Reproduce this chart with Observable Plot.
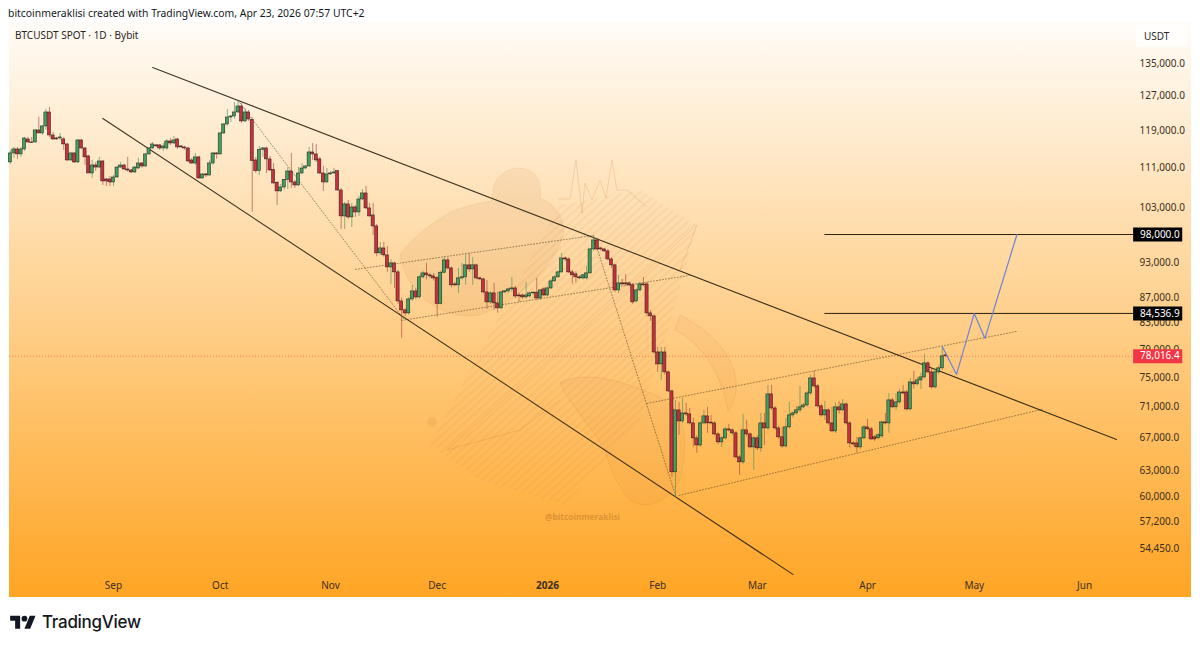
<!DOCTYPE html>
<html><head><meta charset="utf-8">
<script src="https://cdn.jsdelivr.net/npm/d3@7"></script>
<script src="https://cdn.jsdelivr.net/npm/@observablehq/plot@0.6"></script>
<style>
html,body{margin:0;padding:0;background:#fff;width:1200px;height:647px;overflow:hidden;font-family:"Noto Sans",sans-serif;color:#131722}
#panel{position:absolute;left:9px;top:22px;width:1182px;height:575px;background:linear-gradient(#fffcf8 0%,#ffa524 100%)}
#wm{position:absolute;left:0;top:0}
#chart{position:absolute;left:0;top:0}
#chart svg{background:transparent!important}
.t{position:absolute;white-space:nowrap}
#head{left:8px;top:5px;font-size:10.4px;line-height:16px}
#sym{left:15px;top:27px;font-size:10px;line-height:16px;color:#2a2420}
#unit{left:1136px;top:25px;width:44px;height:22px;padding-left:8px;line-height:22px;font-size:10px;background:rgba(255,255,255,.75);border-radius:3px;color:#2a2a2a}
#brand{left:42px;top:610px;font-family:Inter,sans-serif;font-weight:500;font-size:17px;line-height:24px;letter-spacing:-.3px;color:#131722}
#logo{position:absolute;left:10px;top:613px}
</style></head><body>
<div id="panel"></div>
<svg id="wm" width="1200" height="647" viewBox="0 0 1200 647">
<defs><pattern id="hatch" width="6" height="6" patternUnits="userSpaceOnUse" patternTransform="rotate(-42)"><rect width="6" height="2.4" fill="#b8682c" fill-opacity=".08"/></pattern></defs>
<polygon points="430,445 470,370 560,205 640,190 697,225 668,330 640,420 565,505 480,480" fill="url(#hatch)"/>
<g fill="#c06a2c" fill-opacity=".09" stroke="#b8682c" stroke-opacity=".1">
<path d="M400,255 C410,240 425,228 450,212 C470,204 485,203 493,200 C490,185 500,170 517,168 C535,168 542,180 540,198 C552,203 562,212 564,230 C560,262 520,300 480,315 C440,322 405,290 400,255Z"/>
</g>
<g fill="#c06a2c" fill-opacity=".05" stroke="#b8682c" stroke-opacity=".14">
<path d="M560,383 C590,368 630,385 655,395 C680,405 690,430 682,470 C680,490 660,505 645,505 C625,505 612,475 605,450 C590,425 570,405 560,383Z"/>
<path d="M680,315 C720,335 752,375 728,412 C724,380 705,345 675,330Z"/>
</g>
<g fill="none" stroke="#b8682c" stroke-opacity=".18">
<polyline points="558,199 570,199 576,160 582,213 585,183 592,200 600,180 606,198 612,160 617,190 627,190 647,207"/>
<polyline points="447,450 560,350 697,225 680,270"/>
<polyline points="447,450 520,430 560,400"/>
</g>
<circle cx="432" cy="422" r="5" fill="#b8682c" fill-opacity=".12"/>
<text x="545" y="519.5" font-family="Noto Sans" font-weight="700" font-size="8.4" fill="#a8641e" fill-opacity=".42">@bitcoinmeraklisi</text>
</svg>
<div id="chart"></div>
<div class="t" id="head">bitcoinmeraklisi created with TradingView.com, Apr 23, 2026 07:57 UTC+2</div>
<div class="t" id="sym">BTCUSDT SPOT · 1D · Bybit</div>
<div class="t" id="unit">USDT</div>
<svg id="logo" width="26" height="20" viewBox="0 0 36 28"><path fill="#131722" d="M14 22H7V11H0V4h14v18zM28 22h-8l7.5-18h8L28 22z"/><circle fill="#131722" cx="20" cy="8" r="4"/></svg>
<div class="t" id="brand">TradingView</div>
<script>
const firstDay = "2025-08-03";
const openP = [
112160,114070,114930,113860,114930,117100,116440,116440,119090,118420,
119980,123170,117980,117320,117320,117100,116010,112580,114070,112160,
116880,115140,113440,109870,111530,111100,112370,108650,108650,108040,
109050,111100,111530,110700,110490,110080,110900,111950,111320,113860,
115140,115800,115800,115140,115140,116660,116220,117100,115580,115360,
115140,112580,111950,113230,108850,109670,109460,111950,114070,113860,
118420,120430,122010,122240,123170,124560,121110,123170,121490,112580,
110350,114860,115140,112800,110630,107980,106240,107030,108580,110280,
108040,107430,109870,110900,111320,114280,113860,112800,109870,108040,
109670,109870,110350,106430,101380,103680,101190,103100,102140,104650,
105840,102910,101570,99490,94600,95480,94240,92140,92840,91290,
86460,85020,84540,86780,88100,87110,90440,91120,90780,90610,
90320,86040,91240,93360,91970,89260,89100,90270,90440,92500,
91800,92500,90270,90100,87930,86300,87770,86140,85340,87930,
88100,88430,88590,87430,87430,87110,87270,87770,87900,86950,
88430,87430,88590,89760,90440,91290,93710,93530,91290,90950,
90440,90270,90270,91120,95300,96920,95480,95300,94950,93530,
92500,88260,89430,89430,89430,89100,86460,88260,89260,89260,
84540,84070,78580,76840,78580,75700,73050,62780,70500,69060,
70100,69970,68800,66900,66020,68800,69710,68900,68800,67400,
66400,66900,68030,67910,67530,64560,63960,67910,67400,65780,
66900,65660,68800,68160,72640,70760,68160,67030,65900,68290,
69840,70100,70500,70900,71160,72770,74850,73740,71030,69840,
70500,68800,67780,70900,70500,71290,68800,66270,66270,65780,
66900,68290,68040,67030,66900,67150,68930,68800,71830,70900,
71560,72910,72910,70630,74290,74020,74570,74990,76990,75700,
73600,75700,76270,78150];
const highP = [
114710,115360,115360,115360,117540,117540,117540,119310,122080,120200,
123860,124330,118640,117540,118420,117540,116220,114280,114280,117100,
117100,115360,113650,112580,112160,113230,112580,108850,109260,109460,
111320,112160,111740,113230,110700,111320,113020,112160,114070,115360,
116440,116010,116010,116220,117100,117320,117760,117320,115800,115580,
115360,113020,114070,113440,109870,109870,112580,114280,114280,118640,
120650,123860,122470,125500,125970,125260,124090,123630,122000,113230,
115580,115360,115360,113440,111950,108240,107640,108650,111100,114070,
108440,111100,111950,111530,115360,116220,116010,113230,111320,110900,
110280,110900,110490,106830,104070,104460,103880,103490,105250,106630,
107230,103880,103880,99870,96560,96560,95840,93500,93010,91630,
87000,85300,87100,89100,88600,90700,91500,92840,91120,91120,
90600,91500,93950,93800,92200,89600,91970,92840,94420,94600,
93880,92700,90500,90300,89930,88000,89430,87930,88000,88300,
88600,90440,88900,87800,87700,89600,87930,88000,90270,88400,
88700,88800,90100,90700,91500,94600,94000,93800,91600,91400,
90700,91000,92320,95500,97650,97200,95700,95500,95300,93800,
92700,90800,90100,90950,89700,89400,88500,89600,90440,89600,
85000,84300,79320,79320,79320,75900,73200,71830,71560,72100,
71430,70760,69450,67200,69000,70500,70900,69840,69000,67600,
67100,68300,68680,68100,67800,64800,69970,69190,67600,67100,
67200,70100,70100,73880,73880,71000,68400,68290,69450,71560,
70300,71000,73740,71400,73000,75300,75840,74000,71300,71700,
70700,70900,71500,71700,71960,71500,69000,66500,67030,67000,
68550,69320,68300,67300,67500,69100,70100,72770,72100,72770,
73330,73880,73200,74850,75840,75000,75600,78290,77200,76270,
76270,76700,79320,78400];
const lowP = [
111740,113020,112810,113230,114500,116220,116220,116220,118420,118000,
119090,117540,116880,116880,116880,114710,112360,112370,111950,111950,
114920,111530,109870,108850,110280,110900,107430,107230,107230,107230,
108850,110900,110490,110080,109870,109870,110700,110900,111100,113650,
114930,115360,114710,114500,114700,115800,115990,114930,115140,114710,
112160,111740,111530,108650,108650,109050,109260,111530,112810,113650,
118200,119980,120880,121560,122930,120650,120880,121110,102190,109870,
109460,113230,109870,110280,107640,103480,106040,106500,106630,106830,
106830,107230,109670,110700,111100,112580,112160,109670,106240,107840,
109460,109670,106240,98930,98930,100790,99300,101200,101380,104460,
102700,101190,97840,94000,94250,93900,91290,89260,88590,86000,
80670,84100,84300,86460,86700,86800,90200,90000,90200,89800,
83950,85900,91000,91700,88700,88900,87770,90000,89100,91300,
89100,90000,89900,87700,85180,86000,85020,84550,85100,87800,
87800,88000,86900,86300,86800,86800,87000,87500,86600,86600,
87200,87200,88400,89600,90300,91100,93200,91100,89260,89500,
90100,90000,90000,90900,95000,95000,95000,94800,93300,92000,
87900,87800,89000,89000,88900,86000,86200,88000,88900,84000,
83280,78300,75700,74570,75300,72900,62190,59900,67280,68800,
69700,68600,65780,65050,65800,68600,67530,68600,67200,66100,
65780,66700,67700,67300,64400,62420,63700,67100,65600,63010,
65400,65170,66020,67900,70500,67900,66800,65660,65700,68100,
69500,69900,70200,70700,70900,72500,73500,70800,69600,69190,
68600,67600,67500,70000,70300,68600,65660,65900,65050,65500,
66700,67900,66600,66500,66700,66900,68600,67530,70700,70500,
71300,72600,70400,70400,73330,73800,73330,74800,75500,73400,
73400,75400,76000,77800];
const closeP = [
114070,114930,113860,114930,117320,116440,116300,119090,118420,119980,
123170,117980,117100,117100,117540,116010,112580,114070,112160,116880,
115140,113230,109870,111530,111100,112370,108240,108240,108040,109050,
111100,111530,110700,110490,110080,111100,111950,111320,113860,115140,
116010,115580,115140,115580,116660,116220,116880,115360,115360,115140,
112370,111950,113230,108850,109670,109460,111950,114070,113860,118420,
120430,122010,122240,123170,124560,121110,123170,121560,112440,110350,
114860,115140,112800,110490,107840,106240,107030,108580,110280,108040,
107430,109870,110900,111320,114280,113860,112580,109870,108040,109670,
109870,110080,106430,101380,103680,101190,103100,102140,104650,105840,
102910,101380,99490,94600,95480,94240,92140,92840,91290,86460,
85020,84540,86780,88100,87110,90440,91120,90780,90610,90270,
86040,91240,93360,91970,89100,89100,90270,90440,92500,91800,
92500,90270,90100,87930,86300,87770,86140,85340,87930,88100,
88430,88590,87270,87270,87110,87430,87770,87900,86950,88260,
87430,88590,89760,90440,91290,93710,93530,91290,90780,90440,
90270,90780,91120,95300,96920,95300,95300,94950,93530,92500,
88260,89430,89260,89260,89100,86300,88260,89260,89100,84540,
84070,78580,76840,78580,75700,73050,62780,70500,69060,70100,
69970,68800,66900,66020,68800,69710,68800,68800,67400,66400,
66900,68030,67910,67530,64560,63960,67910,67400,65780,66900,
65660,68800,68160,72640,70760,68160,67030,65900,68290,69840,
70100,70500,70900,71160,72770,74850,73740,71030,69840,70500,
68800,67780,70900,70500,71290,68800,66270,66150,65780,66900,
68290,68040,66770,66770,67280,68930,68800,71830,70900,71560,
72910,72770,70630,74290,74020,74570,74990,76990,75700,73600,
75700,76270,78000,78016.4];

const priceTicks = [135000,127000,119000,111000,103000,93000,87000,83000,79000,75000,71000,67000,63000,60000,57200,54450];
const monthDates = ["2025-09-01","2025-10-01","2025-11-01","2025-12-01","2026-02-01","2026-03-01","2026-04-01","2026-05-01","2026-06-01"];
const monthNames = ["Sep","Oct","Nov","Dec","Feb","Mar","Apr","May","Jun"];
const yearDate = "2026-01-01";
const yearName = "2026";

const upperTrend = [["2025-09-12",133990],["2026-06-10",66770]];
const lowerTrend = [["2025-08-29",121800],["2026-03-11",51860]];
const firstLeg  = [["2025-10-06",125970],["2025-11-21T12:00Z",83750]];
const secondLeg = [["2026-01-14",97460],["2026-02-06",60120]];
const flagTop = [["2025-11-08",91800],["2026-01-14",97830]];
const flagBottom = [["2025-11-21",83440],["2026-02-10",90780]];
const wedgeTop = [["2026-01-29",71430],["2026-05-13",81740]];
const wedgeBottom = [["2026-02-07",60120],["2026-05-20",70630]];
const projection = [["2026-04-22",79470],["2026-04-26",75410],["2026-05-01",84536.9],["2026-05-04",80670],["2026-05-13",98000]];

const target1 = 98000, target2 = 84536.9, lastPrice = 78016.4;
const targetStart = "2026-03-20";

const day = 864e5;
const sep1 = Date.UTC(2025,8,1);
const dayAt = n => new Date(sep1 + n*day);
const start = new Date(firstDay).getTime();
const candles = openP.map((o,i)=>({date:new Date(start+i*day),open:o,high:highP[i],low:lowP[i],close:closeP[i]}));

const tagStart = dayAt(286.8), tagEnd = dayAt(300.6), tagText = dayAt(288.6);
const GREEN="#3f9f5f", RED="#c8303f", INK="#2b2110", DOT="#5b4220";
const pts = a => ({x:d=>new Date(d[0]),y:d=>d[1]});
const solid = a => Plot.line(a,{...pts(a),stroke:INK,strokeWidth:1.1,strokeOpacity:.9});
const dotted = a => Plot.line(a,{...pts(a),stroke:DOT,strokeWidth:.9,strokeDasharray:"1 2",strokeOpacity:.65});
const fmt = d3.format(",.1f");
const FONT = '"Noto Sans",sans-serif';

const chart = Plot.plot({
  width:1200,height:647,marginLeft:9,marginRight:69,marginTop:22,marginBottom:50,
  style:{background:"transparent",fontFamily:FONT,fontSize:"10px",color:"#3b2f20"},
  x:{type:"utc",domain:[dayAt(-29.24),dayAt(286.2)]},
  y:{type:"log",domain:[49660,145770]},
  marks:[
    Plot.axisY(priceTicks,{anchor:"right",tickSize:0,tickPadding:8,tickFormat:fmt,label:null,fontSize:10,fill:"#3b2f20"}),
    Plot.axisX(monthDates.map(d=>new Date(d)),{tickSize:0,tickPadding:-16,tickFormat:d=>monthNames[monthDates.indexOf(d.toISOString().slice(0,10))],label:null,fontSize:10,fill:"#3b2f20"}),
    Plot.axisX([new Date(yearDate)],{tickSize:0,tickPadding:-16,tickFormat:()=>yearName,label:null,fontSize:10,fontWeight:"bold",fill:"#3b2f20"}),
    Plot.ruleY([lastPrice],{x1:dayAt(-29.24),x2:tagStart,stroke:"#f23645",strokeWidth:.9,strokeDasharray:"1 2",strokeOpacity:.6}),
    dotted(firstLeg),dotted(secondLeg),dotted(flagTop),dotted(flagBottom),dotted(wedgeTop),dotted(wedgeBottom),
    solid(upperTrend),solid(lowerTrend),
    Plot.ruleX(candles,{x:"date",y1:"low",y2:"high",stroke:d=>d.close>=d.open?"#4f8f5f":"#a8483f",strokeWidth:1,strokeOpacity:.65}),
    Plot.rect(candles,{x1:d=>new Date(+d.date-.44*day),x2:d=>new Date(+d.date+.44*day),y1:"open",y2:"close",
      fill:d=>d.close>=d.open?GREEN:RED,stroke:"#1f1a14",strokeWidth:.5}),
    Plot.ruleY([target1,target2],{x1:new Date(targetStart),x2:tagStart,stroke:INK,strokeWidth:1}),
    Plot.line(projection,{...pts(projection),stroke:"#6f82d6",strokeWidth:1.2}),
    Plot.ruleY([target1,target2],{x1:tagStart,x2:tagEnd,stroke:"#000",strokeWidth:14}),
    Plot.ruleY([lastPrice],{x1:tagStart,x2:tagEnd,stroke:"#f23645",strokeWidth:14}),
    Plot.text([target1,target2],{x:tagText,y:d=>d,text:d=>fmt(d),textAnchor:"start",fill:"#fff",fontSize:10}),
    Plot.text([lastPrice],{x:tagText,y:d=>d,text:d=>fmt(d),textAnchor:"start",fill:"#fff",fontSize:10})
  ]
});
document.getElementById("chart").appendChild(chart);
</script>
</body></html>
